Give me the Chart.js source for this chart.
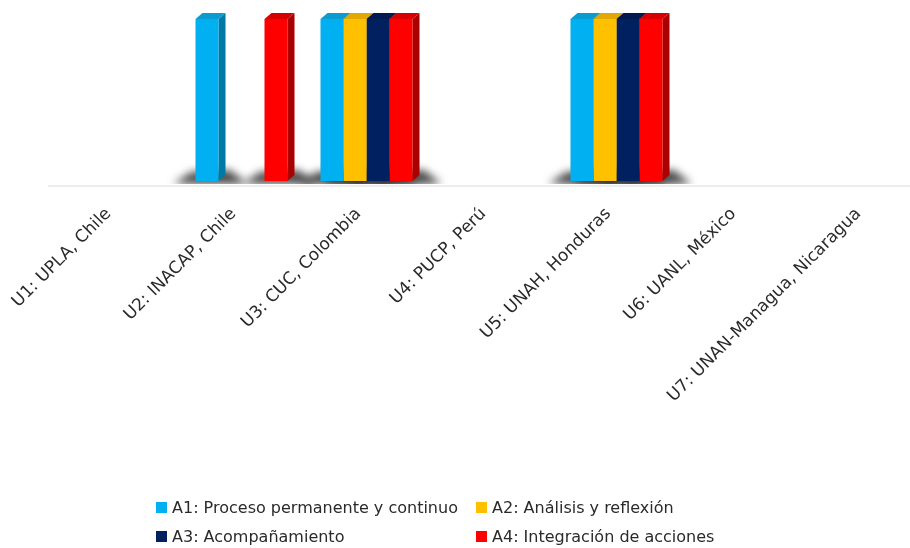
<!DOCTYPE html>
<html>
<head>
<meta charset="utf-8">
<script src="https://cdn.jsdelivr.net/npm/chart.js@4/dist/chart.umd.min.js"></script>
<style>
  html, body { margin: 0; padding: 0; background: #fff; overflow: hidden; }
  #wrap { position: relative; width: 910px; height: 548px; }
  #c { position: absolute; left: 0; top: 0; }
  #legend { position: absolute; left: 156px; top: 497px; display: grid;
            grid-template-columns: 320px auto; row-gap: 9px;
            font-family: "DejaVu Sans", sans-serif; font-size: 16px; color: #2a2a2a; }
  .item { display: flex; align-items: center; white-space: nowrap; height: 20px; }
  .sw { width: 11px; height: 11px; margin-right: 5px; display: inline-block; }
</style>
</head>
<body>
<div id="wrap">
  <canvas id="c" width="910" height="548"></canvas>
  <div id="legend"></div>
</div>
<script>
const categories = ["U1: UPLA, Chile", "U2: INACAP, Chile", "U3: CUC, Colombia", "U4: PUCP, Perú",
                    "U5: UNAH, Honduras", "U6: UANL, México", "U7: UNAN-Managua, Nicaragua"];
const seriesNames = ["A1: Proceso permanente y continuo", "A2: Análisis y reflexión",
                     "A3: Acompañamiento", "A4: Integración de acciones"];
const A1 = [0, 1, 1, 0, 1, 0, 0];
const A2 = [0, 0, 1, 0, 1, 0, 0];
const A3 = [0, 0, 1, 0, 1, 0, 0];
const A4 = [0, 1, 1, 0, 1, 0, 0];

const colors = ["#00B0F0", "#FFC000", "#002060", "#FF0000"];
const topColors = ["#0A9BD0", "#E0A800", "#001A50", "#D80000"];
const sideColors = ["#0079A6", "#B88A00", "#001238", "#AA0000"];
const DX = 7, DY = 6;

const bar3d = {
  id: 'bar3d',
  beforeDatasetsDraw(chart) {
    const ctx = chart.ctx;
    const area = chart.chartArea;
    const floor = area.bottom;
    ctx.save();
    // floor line
    ctx.fillStyle = '#ededed';
    ctx.fillRect(48, floor + 4, 910 - 48, 2);
    // shadows (clipped above the floor line)
    ctx.save();
    ctx.beginPath();
    ctx.rect(0, 0, 910, floor + 3);
    ctx.clip();
    ctx.filter = 'blur(4px)';
    ctx.fillStyle = 'rgba(40,40,40,0.85)';
    chart.data.datasets.forEach((ds, di) => {
      chart.getDatasetMeta(di).data.forEach((el, i) => {
        if (!ds.data[i]) return;
        const L = el.x - el.width / 2, R = el.x + el.width / 2;
        ctx.beginPath();
        ctx.moveTo(L - 22, floor + 3);
        ctx.lineTo(L - 4, floor - 9);
        ctx.lineTo(R + DX + 4, floor - 11);
        ctx.lineTo(R + DX + 22, floor + 3);
        ctx.closePath();
        ctx.fill();
      });
    });
    ctx.restore();
    // sides and tops
    chart.data.datasets.forEach((ds, di) => {
      chart.getDatasetMeta(di).data.forEach((el, i) => {
        if (!ds.data[i]) return;
        const L = el.x - el.width / 2, R = el.x + el.width / 2;
        const T = el.y, B = el.base;
        ctx.fillStyle = sideColors[di];
        ctx.beginPath();
        ctx.moveTo(R, T); ctx.lineTo(R + DX, T - DY);
        ctx.lineTo(R + DX, B - DY); ctx.lineTo(R, B);
        ctx.closePath(); ctx.fill();
        ctx.fillStyle = topColors[di];
        ctx.beginPath();
        ctx.moveTo(L, T); ctx.lineTo(L + DX, T - DY);
        ctx.lineTo(R + DX, T - DY); ctx.lineTo(R, T);
        ctx.closePath(); ctx.fill();
      });
    });
    ctx.restore();
  }
};

const seriesData = [A1, A2, A3, A4];
const chart = new Chart(document.getElementById('c'), {
  type: 'bar',
  data: {
    labels: categories,
    datasets: seriesData.map((d, i) => ({
      label: seriesNames[i], data: d, backgroundColor: colors[i],
      borderWidth: 0, categoryPercentage: 0.736, barPercentage: 1
    }))
  },
  options: {
    responsive: false, animation: false,
    layout: { padding: { left: 116.5, right: 43.5, top: 19, bottom: 0 } },
    plugins: { legend: { display: false }, tooltip: { enabled: false } },
    scales: {
      x: {
        offset: false,
        grid: { display: false }, border: { display: false },
        ticks: { minRotation: 45, maxRotation: 45, autoSkip: false, padding: 15, labelOffset: -8,
                 color: '#2a2a2a', font: { family: 'DejaVu Sans', size: 17 } },
        afterFit(scale) { scale.height = 548 - 181; }
      },
      y: { display: false, min: 0, max: 1 }
    }
  },
  plugins: [bar3d]
});

const lg = document.getElementById('legend');
chart.data.datasets.forEach(ds => {
  const it = document.createElement('div'); it.className = 'item';
  const sw = document.createElement('span'); sw.className = 'sw'; sw.style.background = ds.backgroundColor;
  const tx = document.createElement('span'); tx.textContent = ds.label;
  it.appendChild(sw); it.appendChild(tx); lg.appendChild(it);
});
</script>
</body>
</html>
